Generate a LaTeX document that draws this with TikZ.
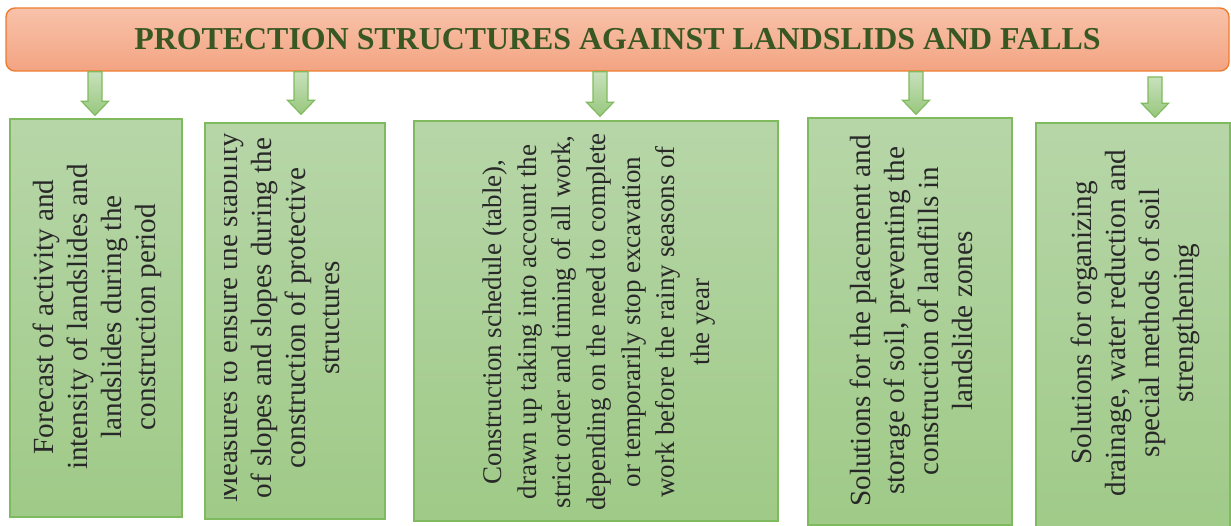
\documentclass[tikz,border=0pt]{standalone}
\usepackage{fontspec}
\setmainfont{Liberation Serif}
\usetikzlibrary{calc}

\definecolor{titletop}{RGB}{248,194,170}
\definecolor{titlebot}{RGB}{243,164,130}
\definecolor{titleedge}{RGB}{237,125,49}
\definecolor{titleink}{RGB}{56,87,35}
\definecolor{boxtop}{RGB}{183,214,168}
\definecolor{boxbot}{RGB}{159,202,135}
\definecolor{boxedge}{RGB}{128,186,94}
\definecolor{arrtop}{RGB}{200,225,188}
\definecolor{arrbot}{RGB}{152,199,125}
\definecolor{bodyink}{RGB}{40,40,40}

\tikzset{
  titlebox/.style={draw=titleedge, line width=1.4pt, rounded corners=9pt,
    top color=titletop, bottom color=titlebot, inner sep=0pt,
    font=\fontsize{31.9}{36}\selectfont\bfseries, text=titleink},
  greenbox/.style={draw=boxedge, line width=1.4pt,
    top color=boxtop, bottom color=boxbot, inner sep=0pt},
  boxtext/.style={rotate=90, align=center, inner sep=0pt, text=bodyink,
    font=\fontsize{29.2}{34}\selectfont},
  smallboxtext/.style={boxtext, font=\fontsize{27}{34.7}\selectfont},
  blockarrow/.style={draw=boxedge, line width=1.2pt, line join=miter,
    top color=arrtop, bottom color=arrbot}
}

% down block arrow from #1 (top of shaft) to #2 (tip)
\newcommand\blockarrowdraw[2]{%
  \path[blockarrow]
    ($(#1)+(-7,0)$) -- ($(#2)+(-7,-14)$) -- ($(#2)+(-13.5,-14)$) --
    (#2) --
    ($(#2)+(13.5,-14)$) -- ($(#2)+(7,-14)$) -- ($(#1)+(7,0)$) -- cycle;}

\begin{document}
\begin{tikzpicture}[x=1pt, y=-1pt]
  \useasboundingbox (0,0) rectangle (1231,526);
  \begin{scope}
  \clip (0,0) rectangle (1231,526);

  % heading bar
  \node[titlebox, minimum width=1223pt, minimum height=63pt] (title) at (617.5,39.5)
    {PROTECTION STRUCTURES AGAINST LANDSLIDS AND FALLS};

  % five measure boxes
  \node[greenbox, minimum width=172pt, minimum height=398pt] (b1) at (96,318) {};
  \node[greenbox, minimum width=180pt, minimum height=396pt] (b2) at (295,321) {};
  \node[greenbox, minimum width=364pt, minimum height=400pt] (b3) at (596,321) {};
  \node[greenbox, minimum width=204pt, minimum height=407pt] (b4) at (910,321.5) {};
  \node[greenbox, minimum width=194pt, minimum height=420pt] (b5) at (1133,333) {};

  % box texts, set vertically
  \node[boxtext] (t1) at (97,317)
    {Forecast of activity and\\intensity of landslides and\\landslides during the\\construction period};
  \begin{scope}
    \clip (224.5,0) rectangle (385,526);
    \node[boxtext] (t2) at (278.5,318)
      {Measures to ensure the stability\\of slopes and slopes during the\\construction of protective\\structures};
  \end{scope}
  \node[smallboxtext] (t3) at (599,322)
    {Construction schedule (table),\\drawn up taking into account the\\strict order and timing of all work,\\depending on the need to complete\\or temporarily stop excavation\\work before the rainy seasons of\\the year};
  \node[boxtext] (t4) at (911,321)
    {Solutions for the placement and\\storage of soil, preventing the\\construction of landfills in\\landslide zones};
  \node[boxtext] (t5) at (1135,323)
    {Solutions for organizing\\drainage, water reduction and\\special methods of soil\\strengthening};

  % arrows from the heading down to each box
  \coordinate (a1s) at (95,0 |- title.south);
  \coordinate (a2s) at (301,0 |- title.south);
  \coordinate (a3s) at (600,0 |- title.south);
  \coordinate (a4s) at (916,0 |- title.south);
  \coordinate (a5s) at (1155,77);
  \coordinate (a1e) at ($(95,0 |- b1.north)+(0,-3)$);
  \coordinate (a2e) at ($(301,0 |- b2.north)+(0,-8)$);
  \coordinate (a3e) at ($(600,0 |- b3.north)+(0,-4)$);
  \coordinate (a4e) at ($(916,0 |- b4.north)+(0,-3)$);
  \coordinate (a5e) at ($(1155,0 |- b5.north)+(0,-5)$);
  \blockarrowdraw{a1s}{a1e}
  \blockarrowdraw{a2s}{a2e}
  \blockarrowdraw{a3s}{a3e}
  \blockarrowdraw{a4s}{a4e}
  \blockarrowdraw{a5s}{a5e}
  \end{scope}
\end{tikzpicture}
\end{document}
